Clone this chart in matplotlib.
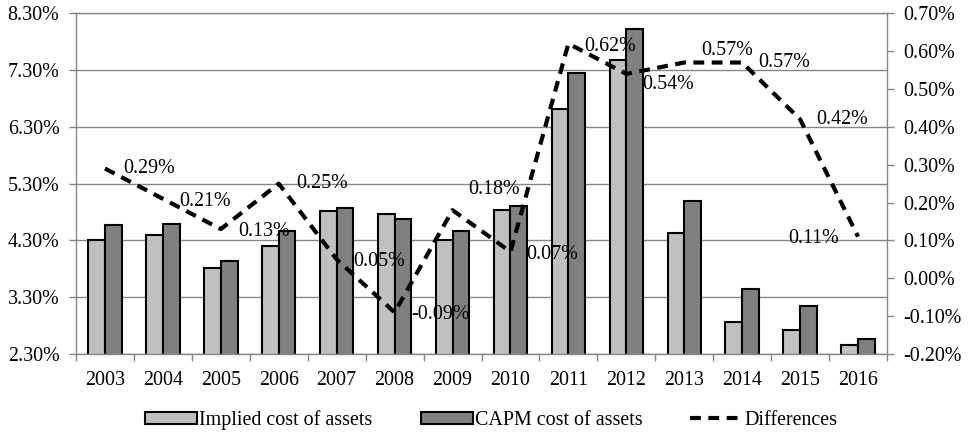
import numpy as np
import matplotlib; matplotlib.use("Agg")
import matplotlib.pyplot as plt

plt.rcParams["font.family"]=["Liberation Serif","DejaVu Serif"]
plt.rcParams["font.size"]=14.4

years=[str(y) for y in range(2003,2017)]
implied=[4.30,4.39,3.81,4.21,4.82,4.76,4.30,4.83,6.61,7.47,4.43,2.87,2.72,2.46]
capm=[4.58,4.59,3.94,4.47,4.87,4.67,4.47,4.90,7.24,8.02,5.00,3.45,3.14,2.57]
diffs=[0.29,0.21,0.13,0.25,0.05,-0.09,0.18,0.07,0.62,0.54,0.57,0.57,0.42,0.11]
left_ticks=[2.30,3.30,4.30,5.30,6.30,7.30,8.30]
right_ticks=[-0.20,-0.10,0.00,0.10,0.20,0.30,0.40,0.50,0.60,0.70]

# label offsets in pixels (dx, dy down) - hand-placed like the source chart
offs=[(18,0),(16,3),(17,2),(17,0),(17,2),(17,2),(16,-21),(16,3),(16,3),(16,11),(17,-12),(16,0),(16,0),(-19,2)]

GRID="#868686"
fig=plt.figure(figsize=(9.71,4.33),dpi=100)
ax=fig.add_axes([76/971,1-354/433,(887-76)/971,(354-13.3)/433])
x=np.arange(len(years)); w=0.288
ax.bar(x-w/2,implied,w,color="#c0c0c0",edgecolor="black",linewidth=1.5,label="Implied cost of assets")
ax.bar(x+w/2,capm,w,color="#808080",edgecolor="black",linewidth=1.5,label="CAPM cost of assets")
ax.set_ylim(2.30,8.30); ax.set_xlim(-0.5,len(years)-0.5)
ax.set_yticks(left_ticks); ax.set_yticklabels([f"{v:.2f}%" for v in left_ticks])
ax.set_xticks(x); ax.set_xticklabels(years)
ax.set_xticks(np.arange(-0.5,len(years)),minor=True)
ax.tick_params(axis="x",which="major",length=0,pad=12)
ax.tick_params(axis="x",which="minor",length=5,color=GRID,width=1)
ax.tick_params(axis="y",length=5,color=GRID,width=1,pad=7)
ax.yaxis.grid(True,color=GRID,lw=1.0); ax.set_axisbelow(True)
for s in ("left","bottom","top"): ax.spines[s].set_color(GRID); ax.spines[s].set_linewidth(1.0)
ax.spines["right"].set_visible(False)

ax2=ax.twinx()
ax2.plot(x,diffs,color="black",lw=3.0,ls=(0,(2.6,1.8)),label="Differences")
ax2.set_ylim(-0.20,0.70)
ax2.set_yticks(right_ticks); ax2.set_yticklabels([f"{v:.2f}%" for v in right_ticks])
ax2.tick_params(axis="y",length=5,color=GRID,width=1,pad=7)
for s in ("left","top","bottom"): ax2.spines[s].set_visible(False)
ax2.spines["right"].set_color(GRID); ax2.spines["right"].set_linewidth(1.0)
for xi,v,(dx,dy) in zip(x,diffs,offs):
    ax2.annotate(f"{v:.2f}%",(xi,v),xytext=(dx*0.72,-dy*0.72),textcoords="offset points",
                 ha="left" if dx>0 else "right",va="center")

h1,l1=ax.get_legend_handles_labels(); h2,l2=ax2.get_legend_handles_labels()
fig.legend(h1+h2,l1+l2,loc="center",bbox_to_anchor=(0.506,1-420/433),ncol=3,frameon=False,
           handlelength=2.6,handleheight=0.55,handletextpad=0.1,columnspacing=2.4,borderpad=0)
fig.savefig("out.png",dpi=100)
